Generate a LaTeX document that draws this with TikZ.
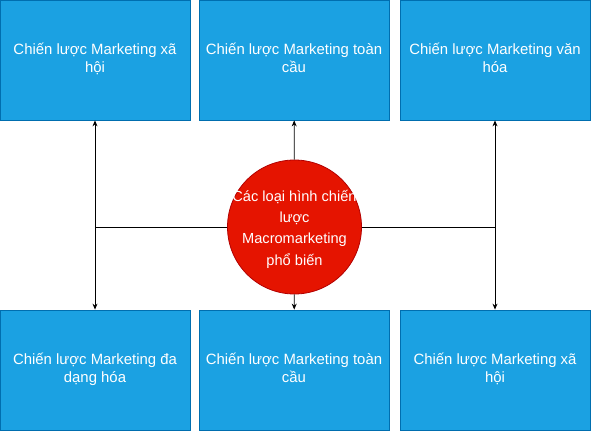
\documentclass[tikz,border=0pt]{standalone}
\usepackage{fontspec}
\setmainfont{Liberation Sans}
\usetikzlibrary{arrows.meta}
\definecolor{boxblue}{HTML}{1BA1E2}
\definecolor{boxedge}{HTML}{006EAF}
\definecolor{hubred}{HTML}{E51400}
\definecolor{hubedge}{HTML}{B20000}
\newcommand{\celltext}[1]{\raisebox{-2.5pt}{\begin{tabular}{@{}c@{}}#1\end{tabular}}}
\tikzset{
    kind/.style={draw=boxedge, fill=boxblue, text=white, minimum width=190pt, minimum height=120pt,
        inner sep=0pt, font=\fontsize{14.9}{18.5}\selectfont},
    hub/.style={draw=hubedge, fill=hubred, text=white, circle, minimum size=134pt, inner sep=0pt,
        font=\fontsize{14.6}{21.3}\selectfont},
}
\begin{document}
\begin{tikzpicture}[x=1pt, y=-1pt, >={Stealth[length=6pt,width=5pt]}, line width=0.8pt]
    \useasboundingbox (0, 0) rectangle (591, 431);

    \node (social) [kind] at (95, 60) {\celltext{Chiến lược Marketing xã\\hội}};
    \node (global) [kind] at (294, 60) {\celltext{Chiến lược Marketing toàn\\cầu}};
    \node (culture) [kind] at (495, 60) {\celltext{Chiến lược Marketing văn\\hóa}};
    \node (diverse) [kind] at (95, 370) {\celltext{Chiến lược Marketing đa\\dạng hóa}};
    \node (global2) [kind] at (294, 370) {\celltext{Chiến lược Marketing toàn\\cầu}};
    \node (social2) [kind] at (495, 370) {\celltext{Chiến lược Marketing xã\\hội}};

    % text is wider than the circle, so it is given no size
    \node (macro) [hub] at (294.5, 227)
        {\smash{\makebox[0pt]{\raisebox{-3pt}{\celltext{Các loại hình chiến\\lược\\Macromarketing\\phổ biến}}}}};

    \coordinate (left) at (95, 227);
    \coordinate (right) at (495, 227);

    \draw (macro) -- (left);
    \draw[->] (left) -- (social);
    \draw[->] (left) -- (diverse);
    \draw[->] (macro) -- (global);
    \draw[->] (macro) -- (global2);
    \draw (macro) -- (right);
    \draw[->] (right) -- (culture);
    \draw[->] (right) -- (social2);
\end{tikzpicture}
\end{document}
